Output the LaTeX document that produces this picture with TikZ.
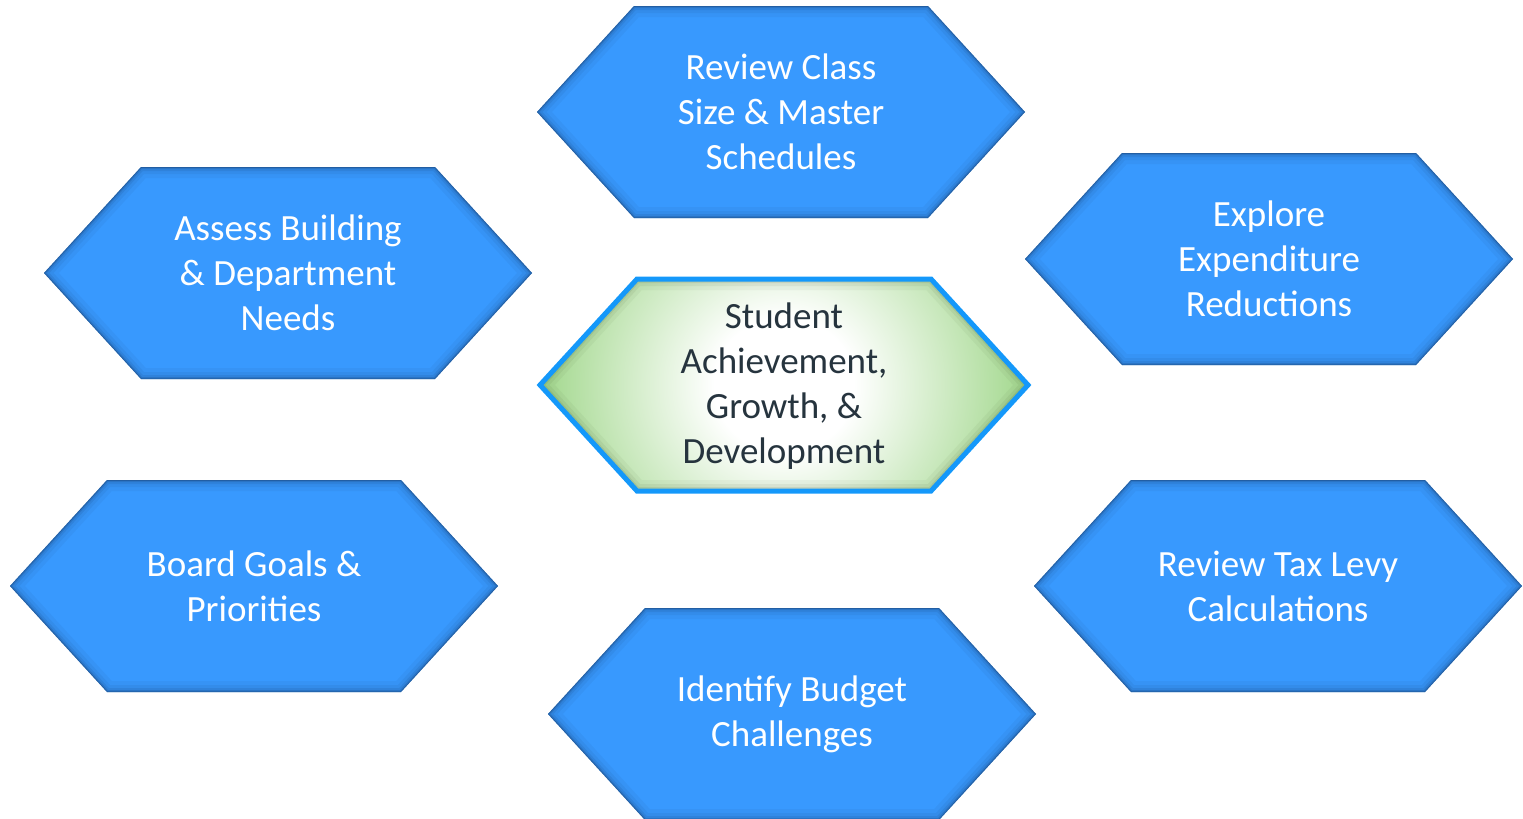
\documentclass[tikz,border=0pt]{standalone}
\usepackage{fontspec}
\setmainfont{Carlito}
\usepackage{tikz}
\usetikzlibrary{positioning}

\definecolor{hexblue}{RGB}{56,153,254}
\definecolor{hexedge}{RGB}{22,62,112}
\definecolor{coregreen}{RGB}{158,214,136}
\definecolor{coreedge}{RGB}{60,80,40}
\definecolor{coreline}{RGB}{20,152,250}
\definecolor{coretext}{RGB}{38,52,62}

\pgfdeclareradialshading{corefade}{\pgfpoint{0bp}{0bp}}{%
  color(0bp)=(white); color(7bp)=(white); color(17bp)=(coregreen!55); color(25bp)=(coregreen); color(50bp)=(coregreen)}

\newcommand{\hexshape}{(-244,0) -- (-147,-106) -- (147,-106) -- (244,0) -- (147,106) -- (-147,106) -- cycle}

\tikzset{
  hexlabel/.style={text=white, align=center, font=\fontsize{37}{45}\selectfont},
  corelabel/.style={text=coretext, align=center, font=\fontsize{37}{45}\selectfont},
}

\begin{document}
\begin{tikzpicture}[x=1pt, y=-1pt]

\useasboundingbox (0,0) rectangle (1523,819);

% Outer hexagons
\foreach \name/\x/\y/\txt in {
    review/781/112/{Review Class\\Size \& Master\\Schedules},
    assess/288/273/{Assess Building\\\& Department\\Needs},
    explore/1269/259/{Explore\\Expenditure\\Reductions},
    board/254/586/{Board Goals \&\\Priorities},
    levy/1278/586/{Review Tax Levy\\Calculations},
    budget/792/714/{Identify Budget\\Challenges}} {
  \begin{scope}[shift={(\x,\y)}]
    \fill[hexblue] \hexshape;
    \begin{scope}
      \clip \hexshape;
      \foreach \w/\o in {22/0.06, 14/0.08, 8/0.12, 4/0.2, 1.5/0.4} {
        \draw[hexedge, line width=\w pt, opacity=\o] \hexshape;
      }
    \end{scope}
  \end{scope}
  \node[hexlabel] (\name) at (\x,\y) {\txt};
}

% Centre hexagon
\begin{scope}[shift={(784,385)}]
  \begin{scope}
    \clip \hexshape;
    \shade[shading=corefade] (-250,-240) rectangle (250,240);
    \foreach \w/\o in {22/0.05, 14/0.07, 8/0.1, 4/0.16} {
      \draw[coreedge, line width=\w pt, opacity=\o] \hexshape;
    }
  \end{scope}
  \draw[coreline, line width=5pt] \hexshape;
\end{scope}
\node[corelabel] (core) at (784,386) {Student\\Achievement,\\Growth, \&\\Development};

\end{tikzpicture}
\end{document}
